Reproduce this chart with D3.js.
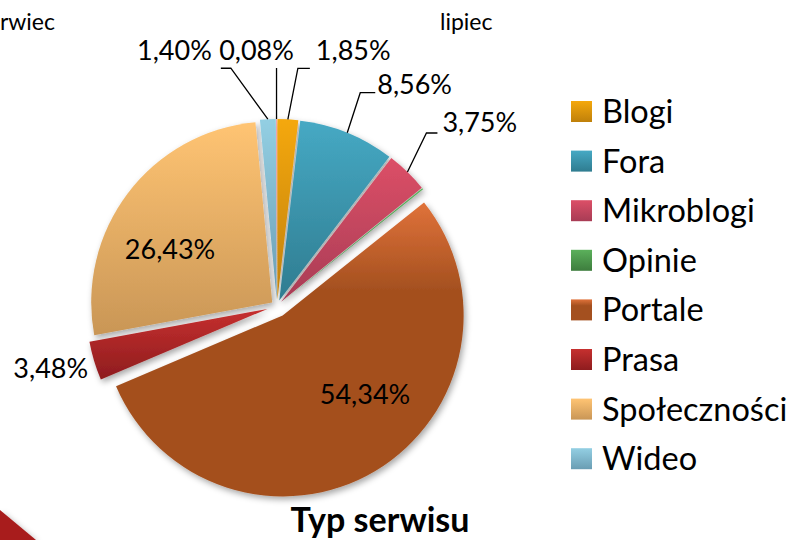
<!DOCTYPE html>
<html>
<head>
<meta charset="utf-8">
<script src="https://cdn.jsdelivr.net/npm/d3@7"></script>
<style>
  body { margin: 0; background: #fff; }
  svg text { font-family: Lato, "Open Sans", sans-serif; fill: #000; }
</style>
</head>
<body>
<svg id="chart" width="798" height="540"></svg>
<script>
// values (percent shares, clockwise from 12 o'clock)
const categories = ["Blogi", "Fora", "Mikroblogi", "Opinie", "Portale", "Prasa", "Społeczności", "Wideo"];
const shares = [1.85, 8.56, 3.75, 0.11, 54.34, 3.48, 26.43, 1.40];
// small unnamed slice that closes the pie (no legend entry)
const restName = "inne";
const restShare = 0.08;
const title = "Typ serwisu";
const monthLabels = ["czerwiec", "lipiec"];

// colours: [top, bottom] of each slice gradient
const colors = {
  "Blogi": ["#f5a80c", "#bf800a"],
  "Fora": ["#46a9c4", "#2f7c90"],
  "Mikroblogi": ["#dc4f67", "#a83c55"],
  "Opinie": ["#5bb05b", "#3d7d3d"],
  "Portale": ["#e0723a", "#a4501f"],
  "Prasa": ["#c6302f", "#8e1c1e"],
  "Społeczności": ["#ffc473", "#c99656"],
  "Wideo": ["#93cfe3", "#6a9db3"],
  "inne": ["#f2a0ab", "#d98794"]
};

// how far each slice is pulled out of the pie
const explode = { "Portale": 11, "Prasa": 10 };
const explodeDefault = 6;

// label placement (leader lines like the original)
const labelLayout = {
  "Blogi":        { kind: "leader", elbow: [10, -51], tip: 12, tx: 6, ty: -8, anchor: "start" },
  "Fora":         { kind: "leader", elbow: [13, -40], tip: 15, tx: 2, ty: 1, anchor: "start" },
  "Mikroblogi":   { kind: "leader", elbow: [19, -39], tip: 11, tx: 5, ty: -1, anchor: "start" },
  "Portale":      { kind: "inside", dx: 36, dy: 1 },
  "Prasa":        { kind: "outside", dx: -6, dy: 17, anchor: "end" },
  "Społeczności": { kind: "inside", dx: -30, dy: 2 },
  "Wideo":        { kind: "leader", elbow: [-37, -51], tip: -10, tx: -9, ty: -8, anchor: "end" },
  "inne":         { kind: "leader", elbow: [0, -51], tip: 0, tx: -20, ty: -8, anchor: "middle" }
};

const svg = d3.select("#chart");
const cx = 277, cy = 306, radius = 181;

const slices = categories.map((c, i) => ({ name: c, value: shares[i] }))
  .concat([{ name: restName, value: restShare }]);

const fmt = v => d3.format(".2f")(v).replace(".", ",") + "%";

// defs: gradients + shadow
const defs = svg.append("defs");
Object.keys(colors).forEach((k, i) => {
  const g = defs.append("linearGradient")
      .attr("id", "grad" + i)
      .attr("x1", 0).attr("y1", 0).attr("x2", 0).attr("y2", 1);
  g.append("stop").attr("offset", "0%").attr("stop-color", colors[k][0]);
  g.append("stop").attr("offset", k == "Portale" ? "30%" : "100%").attr("stop-color", colors[k][1]);
  colors[k].id = "url(#grad" + i + ")";
});
const shadow = defs.append("filter").attr("id", "shadow")
    .attr("x", "-20%").attr("y", "-20%").attr("width", "140%").attr("height", "140%");
shadow.append("feDropShadow")
    .attr("dx", 2).attr("dy", 3).attr("stdDeviation", 3)
    .attr("flood-color", "#000").attr("flood-opacity", 0.35);

// decorative corner shape (bottom-left of the slide)
svg.append("path")
    .attr("d", "M0,510 L36,540 L0,540 Z")
    .attr("fill", "#a81c1c")
    .attr("filter", "url(#shadow)");

// month captions
svg.append("text").attr("x", 55).attr("y", 30)
    .attr("text-anchor", "end").attr("font-size", 23).text(monthLabels[0]);
svg.append("text").attr("x", 440).attr("y", 30)
    .attr("font-size", 23).text(monthLabels[1]);

const pie = d3.pie().sort(null).value(d => d.value);
const arcs = pie(slices);
const arc = d3.arc().innerRadius(0).outerRadius(radius);

const dir = a => [Math.sin(a), -Math.cos(a)];
arcs.forEach(d => {
  d.mid = (d.startAngle + d.endAngle) / 2;
  const e = explode[d.data.name] != null ? explode[d.data.name] : explodeDefault;
  const u = dir(d.mid);
  d.ox = cx + u[0] * e;
  d.oy = cy + u[1] * e;
});

const gPie = svg.append("g").attr("filter", "url(#shadow)");
gPie.selectAll("path")
  .data(arcs)
  .join("path")
    .attr("transform", d => `translate(${d.ox},${d.oy})`)
    .attr("d", arc)
    .attr("fill", d => colors[d.data.name].id);

// labels
const gLab = svg.append("g");
arcs.forEach(d => {
  const lay = labelLayout[d.data.name];
  if (!lay) return;
  const u = dir(d.mid);
  const txt = fmt(d.data.value);
  if (lay.kind == "leader") {
    const p0 = [d.ox + u[0] * radius, d.oy + u[1] * radius];
    const p1 = [p0[0] + lay.elbow[0], p0[1] + lay.elbow[1]];
    const p2 = [p1[0] + lay.tip, p1[1]];
    gLab.append("path")
        .attr("d", d3.line()([p0, p1, p2]))
        .attr("fill", "none").attr("stroke", "#000").attr("stroke-width", 1.3);
    gLab.append("text")
        .attr("x", p2[0] + lay.tx).attr("y", p2[1] + lay.ty)
        .attr("text-anchor", lay.anchor).attr("font-size", 27)
        .text(txt);
  } else if (lay.kind == "outside") {
    const p0 = [d.ox + u[0] * radius, d.oy + u[1] * radius];
    gLab.append("text")
        .attr("x", p0[0] + lay.dx).attr("y", p0[1] + lay.dy)
        .attr("text-anchor", lay.anchor).attr("font-size", 27)
        .text(txt);
  } else {
    const c = arc.centroid(d);
    gLab.append("text")
        .attr("x", d.ox + c[0] + lay.dx).attr("y", d.oy + c[1] + lay.dy)
        .attr("dy", "0.35em")
        .attr("text-anchor", "middle").attr("font-size", 27)
        .text(txt);
  }
});

// legend
const legend = svg.append("g").attr("transform", "translate(571,101)");
const item = legend.selectAll("g")
  .data(categories)
  .join("g")
    .attr("transform", (d, i) => `translate(0,${i * 49.6})`);
item.append("rect")
    .attr("width", 21).attr("height", 21)
    .attr("fill", d => colors[d].id);
item.append("text")
    .attr("x", 31).attr("y", 22)
    .attr("font-size", 32.5)
    .text(d => d);

// title
svg.append("text")
    .attr("x", 380).attr("y", 532)
    .attr("text-anchor", "middle")
    .attr("font-size", 34).attr("font-weight", "bold")
    .text(title);
</script>
</body>
</html>
